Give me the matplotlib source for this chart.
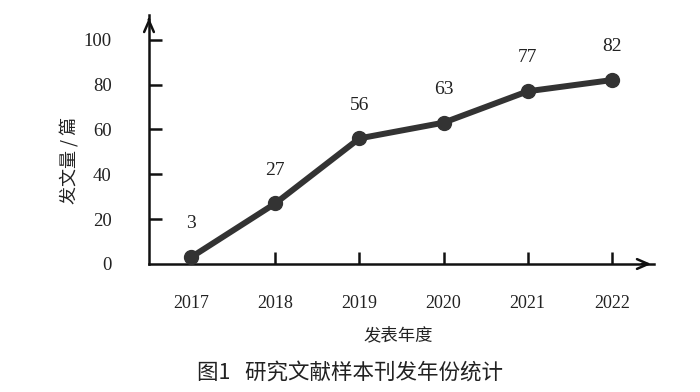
import matplotlib
matplotlib.use("Agg")
import matplotlib.pyplot as plt

years = [2017, 2018, 2019, 2020, 2021, 2022]
counts = [3, 27, 56, 63, 77, 82]
yticks = [0, 20, 40, 60, 80, 100]

serif = ['Liberation Serif', 'DejaVu Serif']
cjk = ['Noto Sans CJK SC', 'DejaVu Sans']

fig = plt.figure(figsize=(7, 3.92), dpi=100)
W, H = 700, 392
left, right = 149, 654
top, bottom = 15, 264
ax = fig.add_axes([left / W, 1 - bottom / H, (right - left) / W, (bottom - top) / H])
ax.set_xlim(2016.5, 2022.5)
ax.set_ylim(0, 111)

lc = '#333333'
ax.plot(years, counts, color=lc, lw=4.3, marker='o', ms=10, mfc=lc, mec=lc,
        solid_capstyle='round', zorder=3, clip_on=False)
for x, y in zip(years, counts):
    ax.annotate(str(y), (x, y), xytext=(0, 24), textcoords='offset points',
                ha='center', va='center', fontsize=14, family=serif, color='#222222')

for s in ['top', 'right']:
    ax.spines[s].set_visible(False)
for s in ['left', 'bottom']:
    ax.spines[s].set_linewidth(1.8)
    ax.spines[s].set_color('#111111')

# arrows
ax.annotate('', xy=(1.0, 0), xytext=(0.97, 0), xycoords='axes fraction',
            arrowprops=dict(arrowstyle='->,head_length=0.8,head_width=0.35', lw=1.8, color='#111111'))
ax.annotate('', xy=(0, 1.0), xytext=(0, 0.97), xycoords='axes fraction',
            arrowprops=dict(arrowstyle='->,head_length=0.8,head_width=0.35', lw=1.8, color='#111111'))

ax.set_yticks(yticks)
ax.set_yticklabels([str(t) for t in yticks], family=serif, fontsize=13.5)
ax.set_xticks(years)
ax.set_xticklabels([str(y) for y in years], family=serif, fontsize=13)
ax.tick_params(axis='y', direction='in', length=9, width=1.8, pad=27, colors='#111111')
ax.tick_params(axis='x', direction='in', length=9, width=1.8, pad=22, colors='#111111')
for tl in ax.yaxis.get_major_ticks():
    if tl.get_loc() == 0:
        tl.tick1line.set_visible(False)
ax.xaxis.get_major_ticks()[0].tick1line.set_visible(False)
for lbl in ax.get_xticklabels() + ax.get_yticklabels():
    lbl.set_color('#222222')

fig.text(398 / W, 1 - 335 / H, '发表年度', family=cjk, fontsize=12.5,
         ha='center', va='center', color='#222222')
fig.text(70 / W, 1 - 160 / H, '发文量 / 篇', family=cjk, fontsize=13,
         ha='center', va='center', rotation=90, color='#222222')
fig.text(350 / W, 1 - 373 / H, '图1   研究文献样本刊发年份统计', family=cjk, fontsize=15.5,
         ha='center', va='center', color='#222222')

fig.savefig('out.png', dpi=100)
